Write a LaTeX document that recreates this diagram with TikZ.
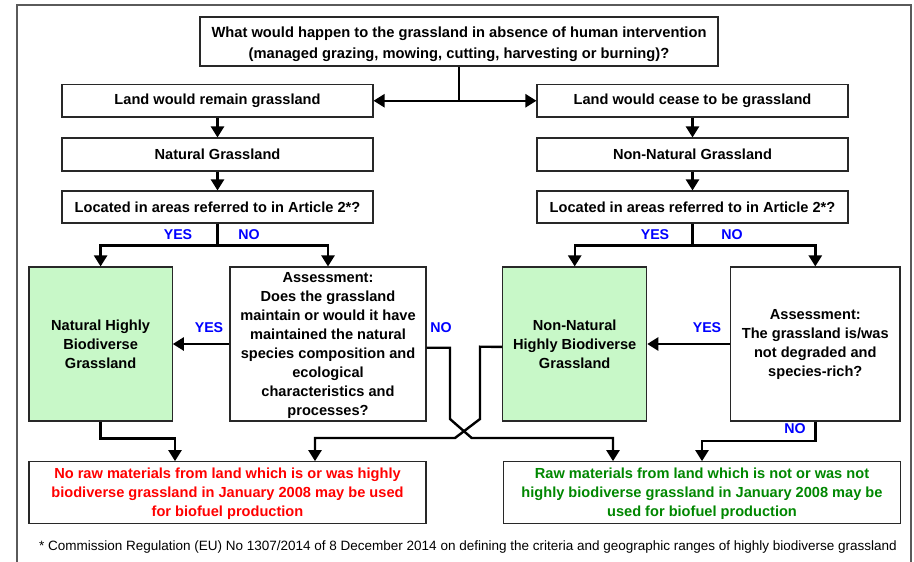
\documentclass[tikz,border=0pt]{standalone}
\usepackage{fontspec}
\setmainfont{Liberation Sans}
\usetikzlibrary{arrows.meta}

\definecolor{boxline}{RGB}{40,40,40}
\definecolor{framecol}{RGB}{90,90,90}
\definecolor{yesno}{RGB}{0,0,255}
\definecolor{notext}{RGB}{255,0,0}
\definecolor{oktext}{RGB}{0,135,0}
\definecolor{biofill}{RGB}{200,248,200}

% strut that lowers a multi-line text block a little inside its box
\newcommand{\lowerby}[1]{\rule{0pt}{#1}}

\tikzset{
  box/.style={draw=boxline, line width=1.1pt, fill=white, inner sep=0pt,
    align=center, font=\fontsize{14.6}{19}\selectfont\bfseries},
  greenbox/.style={box, fill=biofill},
  arr/.style={line width=2.4pt, black, line join=miter,
    -{Triangle[length=11pt,width=13pt]}},
  yn/.style={text=yesno, inner sep=0pt, font=\fontsize{14.2}{17}\selectfont\bfseries},
  frameline/.style={draw=framecol, line width=1.4pt},
  foot/.style={inner sep=0pt, font=\fontsize{13.5}{16}\selectfont}
}

\begin{document}
\begin{tikzpicture}[x=1pt,y=-1pt]
\useasboundingbox (0,0) rectangle (914,562);

% outer frame (open at the bottom edge)
\draw[frameline] (17,562) -- (17,5) -- (911,5) -- (911,562);

% question at the top
\node[box, minimum width=518pt, minimum height=49pt,
      font=\fontsize{14.7}{21}\selectfont\bfseries] (q) at (459,41.5)
  {\lowerby{16pt}What would happen to the grassland in absence of human intervention\\
   (managed grazing, mowing, cutting, harvesting or burning)?};

% left column
\node[box, minimum width=311pt, minimum height=32.5pt] (remain) at (217.5,100.75)
  {Land would remain grassland};
\node[box, minimum width=311pt, minimum height=33pt] (natural) at (217.5,154.5)
  {Natural Grassland};
\node[box, minimum width=311pt, minimum height=32pt] (locL) at (217.5,207)
  {Located in areas referred to in Article 2*?};
\node[greenbox, minimum width=143.3pt, minimum height=154pt] (nhb) at (100.6,344)
  {Natural Highly\\Biodiverse\\Grassland};
\node[box, minimum width=196pt, minimum height=154pt] (assL) at (328,344)
  {\lowerby{13pt}Assessment:\\Does the grassland\\maintain or would it have\\maintained the natural\\
   species composition and\\ecological\\characteristics and\\processes?};

% right column
\node[box, minimum width=311pt, minimum height=32.5pt] (cease) at (692.5,100.75)
  {Land would cease to be grassland};
\node[box, minimum width=311pt, minimum height=33pt] (nonnat) at (692.5,154.5)
  {Non-Natural Grassland};
\node[box, minimum width=311pt, minimum height=32pt] (locR) at (692.5,207)
  {Located in areas referred to in Article 2*?};
\node[greenbox, minimum width=144pt, minimum height=154pt] (nnhb) at (574.7,344)
  {Non-Natural\\Highly Biodiverse\\Grassland};
\node[box, minimum width=169.3pt, minimum height=154pt] (assR) at (815.3,344)
  {Assessment:\\The grassland is/was\\not degraded and\\species-rich?};

% outcomes
\node[box, text=notext, minimum width=397pt, minimum height=61.6pt] (nobox) at (227.5,492.5)
  {\lowerby{14pt}No raw materials from land which is or was highly\\
   biodiverse grassland in January 2008 may be used\\for biofuel production};
\node[box, text=oktext, minimum width=397.2pt, minimum height=61.6pt] (okbox) at (702,492.5)
  {\lowerby{14pt}Raw materials from land which is not or was not\\
   highly biodiverse grassland in January 2008 may be\\used for biofuel production};

% footnote
\node[foot] (fn) at (468,546.7)
  {* Commission Regulation (EU) No 1307/2014 of 8 December 2014 on defining the criteria and geographic ranges of highly biodiverse grassland};

% YES / NO labels
\node[yn] (yes1) at (178,235) {YES};
\node[yn] (no1)  at (249,235) {NO};
\node[yn] (yes2) at (655,235) {YES};
\node[yn] (no2)  at (732,235) {NO};
\node[yn] (yes3) at (209,328) {YES};
\node[yn] (no3)  at (441,328) {NO};
\node[yn] (yes4) at (707,328) {YES};
\node[yn] (no4)  at (795,429) {NO};

% connectors
\draw[arr] (q.south) |- (remain.east);
\draw[arr] (q.south) |- (cease.west);
\draw[arr] (remain.south) -- (natural.north);
\draw[arr] (natural.south) -- (locL.north);
\draw[arr] (cease.south) -- (nonnat.north);
\draw[arr] (nonnat.south) -- (locR.north);

\draw[arr] (locL.south) -- ++(0,22) -| (nhb.north);
\draw[arr] (locL.south) -- ++(0,22) -| (assL.north);
\draw[arr] (locR.south) -- ++(0,22) -| (nnhb.north);
\draw[arr] (locR.south) -- ++(0,22) -| (assR.north);

\draw[arr] (assL.west) -- (nhb.east);
\draw[arr] (assR.west) -- (nnhb.east);

% crossing connectors in the middle
\draw[arr] ([yshift=-3.7pt]assL.east) -- (450,347.7) -- (450,419) -- (471.7,438)
  -| ([xshift=-89pt]okbox.north);
\draw[arr] ([yshift=-2.9pt]nnhb.west) -- (480,346.7) -- (480,419) -- (455,438)
  -| ([xshift=87.5pt]nobox.north);

\draw[arr] (nhb.south) -- ++(0,17) -| ([xshift=-52.5pt]nobox.north);
\draw[arr] (assR.south) -- ++(0,19.3) -| (okbox.north);
\end{tikzpicture}
\end{document}
